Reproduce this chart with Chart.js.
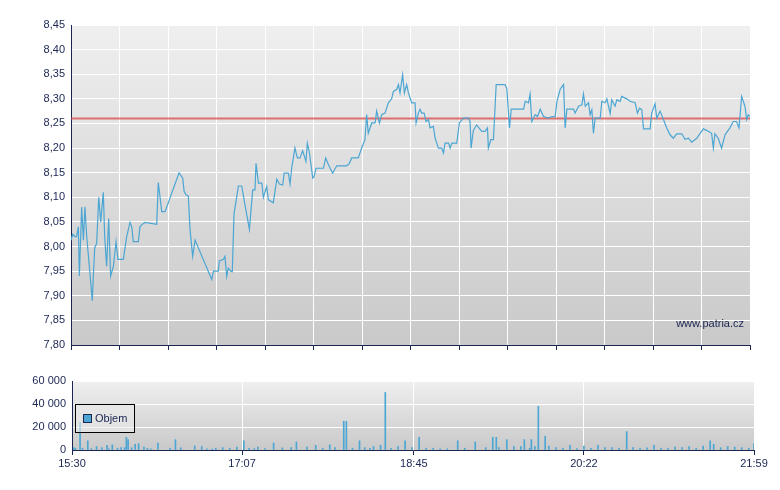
<!DOCTYPE html>
<html><head><meta charset="utf-8">
<script src="https://cdn.jsdelivr.net/npm/chart.js@4"></script>
<style>
body{margin:0;background:#fff;width:780px;height:490px;overflow:hidden;font-family:"Liberation Sans",Arial,sans-serif}
#w1{position:absolute;left:0;top:0;width:780px;height:360px}
#w2{position:absolute;left:0;top:360px;width:780px;height:130px}
#leg{position:absolute;left:75px;top:404px;width:58px;height:27px;border:1px solid #000;background:rgba(235,235,235,0.6);font-size:11px;color:#1a2552;line-height:27px}
#leg span.sq{display:inline-block;width:7px;height:7px;background:#4ba6d3;border:1px solid #1a2552;margin:0 3px 0 7px;vertical-align:-1px}
</style></head><body>
<div id="w1"><canvas id="c1"></canvas></div>
<div id="w2"><canvas id="c2"></canvas></div>
<div id="leg"><span class="sq"></span>Objem</div>
<script>
// minutes after 15:30
const priceMinutes=[0,1,2.3,3.2,4.2,4.8,6.1,7.1,8,9,10.5,12.2,12.8,13.6,14.7,15.9,17,18.5,19.3,20.4,21.6,22.7,24.3,25.8,26.9,30,31.9,33.8,34.8,35.7,38.6,39.5,40.5,42.4,49.1,50,52,53.9,61.9,64,64.8,65.9,67.2,68.2,69.7,71.1,80.6,81.6,84.4,85,87.3,88.2,89.2,90.1,91.5,92.4,93.4,94.9,95.9,97.8,99.7,102.2,104.1,105.4,106,107.4,109.3,110.2,112.1,113.1,115.9,117.9,119.4,121.3,122.1,124.5,125.5,126.4,127.4,128.3,129.7,131.2,132.7,134.6,135.4,136.6,138.5,139.2,140.4,144.6,145.9,147.5,149.9,152.2,157.9,159.5,160.8,164.6,166.5,168.4,169.4,170.3,172.3,174.2,175.1,176.7,178,179.9,181.8,183.7,184.7,186.6,187.6,188.5,190,191,192.3,193.3,195.2,197.1,197.7,199,200,200.9,202.3,203.4,204.8,205.7,207.6,208.6,210.5,212.4,213.4,214.3,216.3,217.2,218.2,221,222.5,224.8,227.7,228.6,229.2,230.5,232.4,235.3,237.2,238.6,239.1,240.5,242,243.6,248.7,249.7,251.2,252.2,259.3,260.2,262.1,263,264,265.9,267.3,268.8,270.7,273.6,275.5,277.4,278.4,280.3,282.2,283.1,284.1,287.9,288.8,290.8,292.7,293.6,294.6,296.5,297.4,298.4,299.3,300.3,303.2,304.1,306,307,308.9,309.8,311.7,312.7,314.6,315.5,318.4,320.3,323.2,324.5,325.7,327,328,331.8,332.7,334.6,335.6,337.5,339.4,341.3,343.2,345.1,347,349.9,351.8,353.7,355.6,358.5,360.4,362.3,365.1,367,368,368.9,370.8,372.7,374.7,377.5,379.4,381.3,382.7,384.2,386.1,387.1,388,389];
const priceValues=[8.013,8.025,8.02,8.02,8.04,7.94,8.08,8.013,8.081,8.02,7.96,7.89,7.94,7.998,8.006,8.10,8.05,8.11,8.02,7.96,8.057,7.94,7.96,8.01,7.974,7.974,8.02,8.049,8.04,8.01,8.01,8.04,8.044,8.049,8.045,8.13,8.071,8.071,8.15,8.139,8.112,8.105,8.103,8.034,7.98,8.013,7.933,7.95,7.95,7.971,7.974,7.98,7.939,7.956,7.95,7.949,8.067,8.10,8.123,8.123,8.084,8.035,8.115,8.115,8.169,8.129,8.129,8.10,8.122,8.095,8.089,8.137,8.127,8.125,8.149,8.149,8.127,8.159,8.18,8.20,8.18,8.18,8.195,8.173,8.21,8.19,8.139,8.142,8.159,8.159,8.18,8.166,8.149,8.164,8.164,8.169,8.18,8.18,8.20,8.217,8.268,8.23,8.251,8.251,8.275,8.251,8.268,8.271,8.292,8.30,8.315,8.319,8.329,8.312,8.349,8.312,8.329,8.312,8.292,8.292,8.251,8.271,8.279,8.271,8.271,8.254,8.258,8.241,8.244,8.22,8.20,8.20,8.19,8.21,8.21,8.20,8.21,8.21,8.251,8.261,8.261,8.254,8.20,8.236,8.247,8.234,8.234,8.241,8.20,8.217,8.217,8.329,8.329,8.32,8.241,8.279,8.279,8.295,8.292,8.31,8.254,8.268,8.264,8.279,8.264,8.261,8.264,8.264,8.295,8.32,8.329,8.241,8.279,8.279,8.271,8.285,8.288,8.31,8.285,8.292,8.268,8.278,8.23,8.261,8.261,8.295,8.292,8.30,8.27,8.298,8.285,8.298,8.295,8.305,8.30,8.295,8.292,8.271,8.281,8.278,8.239,8.239,8.271,8.29,8.261,8.275,8.258,8.241,8.227,8.22,8.229,8.229,8.218,8.22,8.212,8.22,8.23,8.239,8.234,8.23,8.20,8.229,8.22,8.20,8.227,8.241,8.254,8.254,8.241,8.305,8.285,8.258,8.268,8.264];
const refPrice=8.26;
const volMinutes=[1,2,4.6,6,9,11,14,17,20,21,23,26,28,30,31,32,34,36,38,41,43,45,49,56,59,62,70,74,77,80,82,86,90,94,98,101,104,106,110,115,120,125,128,134,139,143,147,150,155,156.5,160,164,167,170,172,176,178.7,182,186,190,194,198,202,206,210,214,220,224,230,236,240,242,243.5,248,252,256,258,261,262,264,266,269.9,272,276,280,284,288,292,296,300,304,308,312,316.4,320,324,328,332,336,340,344,348,352,356,360,364,366,370,374,378,382,386,389];
const volValues=[2000,1500,24000,1500,8000,1200,3000,2000,4000,1000,4500,1500,2000,2000,11000,9000,2000,5000,5500,2500,1500,1000,6000,1500,9000,2000,3500,3000,1000,800,1500,2000,1500,2500,8000,1500,1200,2500,1200,6000,1800,2000,7000,2500,4000,1500,4500,2000,25000,25000,1500,8000,2000,1500,3000,4000,50000,1500,3000,8000,2000,11000,1500,1500,1000,1000,8000,1500,7000,2000,11000,11000,2000,9000,3000,3000,9000,1500,9000,3000,38000,12000,3500,2000,1500,4000,1200,3500,1500,4000,2000,2000,1500,16000,2000,1500,1800,4000,1500,1500,2500,2000,3000,1500,3500,8000,5000,2000,3000,2500,2000,1500,5500];
const xTickMinutes=[0,97,195,292,389];
const xTickLabels=['15:30','17:07','18:45','20:22','21:59'];

const NAVY='#1a2552', BLUE='#4ba6d3';
Chart.defaults.font.family='"Liberation Sans",Arial,sans-serif';
Chart.defaults.font.size=11;
Chart.defaults.color=NAVY;
const bgPlugin={id:'bg',beforeDraw(ch){const a=ch.chartArea,c=ch.ctx;const g=c.createLinearGradient(0,a.top,0,a.bottom);g.addColorStop(0,'#efefef');g.addColorStop(1,'#c9c9c9');c.save();c.fillStyle=g;c.fillRect(a.left,a.top,a.right-a.left,a.bottom-a.top);c.restore();}};
const wm={id:'wm',afterDraw(ch){const a=ch.chartArea,c=ch.ctx;c.save();c.font='11px "Liberation Sans",Arial';c.fillStyle=NAVY;c.textAlign='right';c.fillText('www.patria.cz',a.right-6,a.bottom-18);c.restore();}};
const gridTicks=[];for(let i=0;i<=14;i++)gridTicks.push(i*389/14);

new Chart(document.getElementById('c1'),{
 type:'line',
 data:{datasets:[
  {data:priceMinutes.map((m,i)=>({x:m,y:priceValues[i]})),borderColor:BLUE,borderWidth:1.2,pointRadius:0,tension:0},
  {data:[{x:0,y:refPrice},{x:389,y:refPrice}],borderColor:'rgba(220,60,60,0.7)',borderWidth:2,pointRadius:0}
 ]},
 options:{responsive:true,maintainAspectRatio:false,animation:false,
  layout:{padding:{top:25,right:30,left:0,bottom:0}},
  plugins:{legend:{display:false},tooltip:{enabled:false}},
  scales:{
   x:{type:'linear',min:0,max:389,afterBuildTicks(s){s.ticks=gridTicks.map(v=>({value:v}));},
      ticks:{display:false},grid:{color:'#fff',lineWidth:1,tickColor:NAVY,tickLength:5},border:{color:NAVY},
      afterFit(s){s.height=15;}},
   y:{min:7.8,max:8.45,ticks:{stepSize:0.05,padding:6,callback:v=>v.toFixed(2).replace('.',',')},
      grid:{color:'#fff',lineWidth:1,drawTicks:false},border:{color:NAVY},afterFit(s){s.width=71;}}
  }},
 plugins:[bgPlugin,wm]
});

new Chart(document.getElementById('c2'),{
 type:'bar',
 data:{datasets:[{data:volMinutes.map((m,i)=>({x:m,y:volValues[i]})),backgroundColor:BLUE,barThickness:1,grouped:false}]},
 options:{responsive:true,maintainAspectRatio:false,animation:false,
  layout:{padding:{top:21,right:26,left:0,bottom:0}},
  plugins:{legend:{display:false},tooltip:{enabled:false}},
  scales:{
   x:{type:'linear',min:0,max:389,offset:false,afterBuildTicks(s){s.ticks=xTickMinutes.map(v=>({value:v}));},
      ticks:{autoSkip:false,maxRotation:0,padding:2,callback:(v)=>xTickLabels[xTickMinutes.indexOf(v)]},
      grid:{color:'#fff',tickColor:NAVY,tickLength:5,offset:false},border:{color:NAVY},afterFit(s){s.height=40;}},
   y:{min:0,max:60000,ticks:{stepSize:20000,padding:6,callback:v=>v===0?'0':String(v).replace(/\B(?=(\d{3})+(?!\d))/g,' ')},
      grid:{color:'#fff',drawTicks:false},border:{color:NAVY},afterFit(s){s.width=72;}}
  }},
 plugins:[bgPlugin]
});
</script></body></html>
